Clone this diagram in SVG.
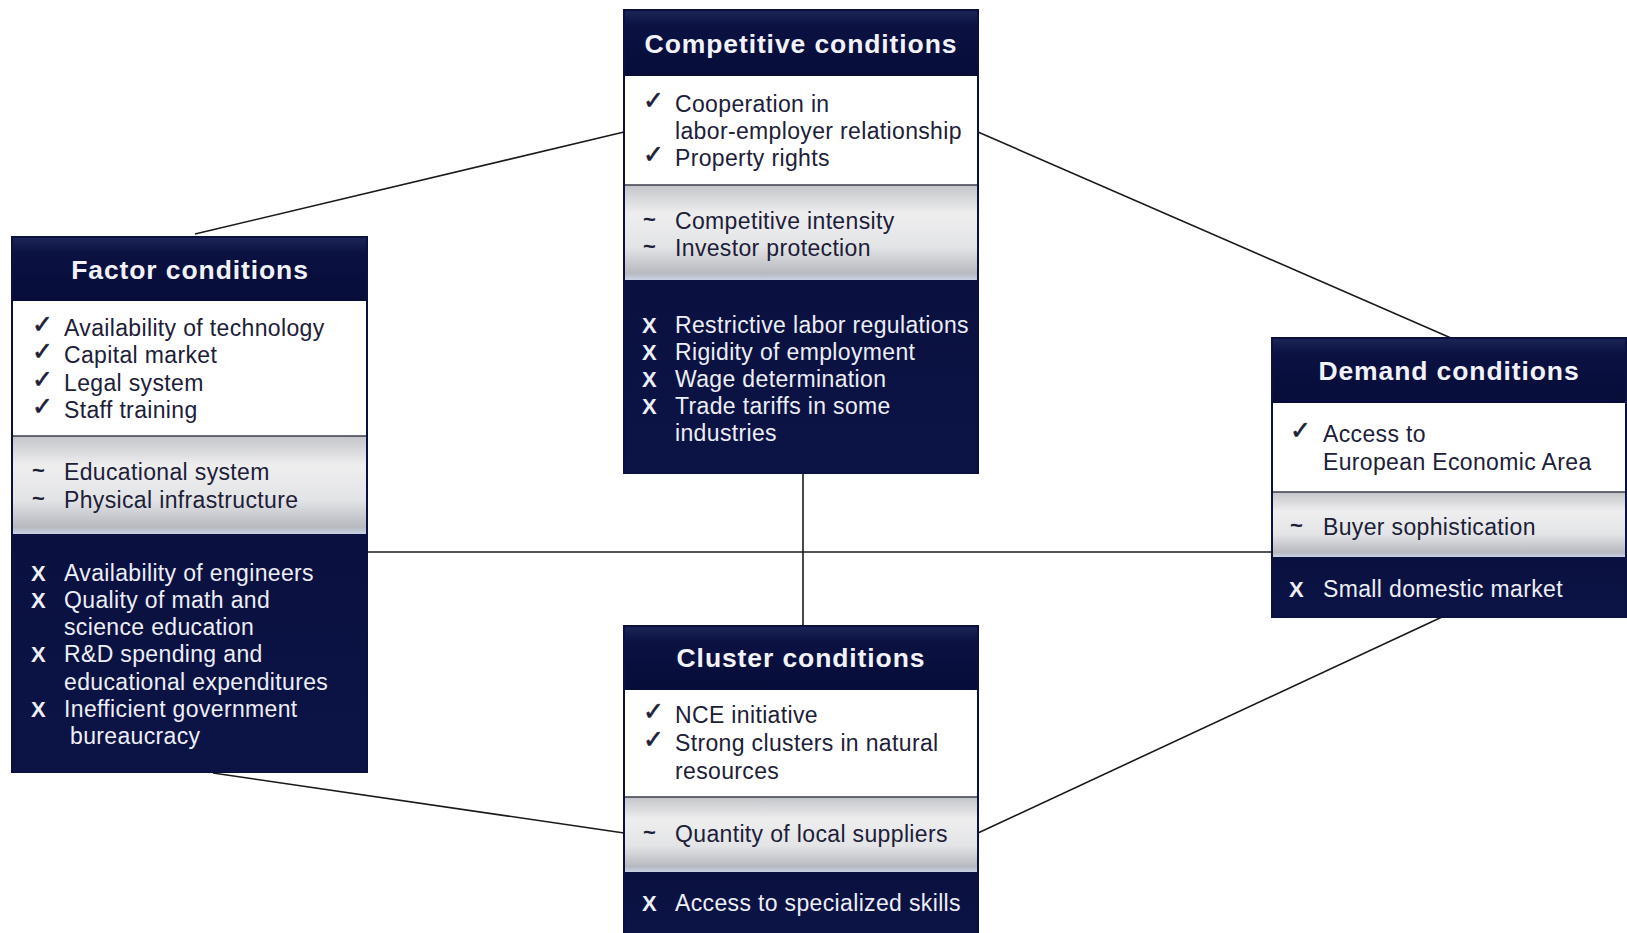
<svg xmlns="http://www.w3.org/2000/svg" width="1627" height="933" viewBox="0 0 1627 933">
<defs>
<linearGradient id="hdr" x1="0" y1="0" x2="0" y2="1">
<stop offset="0" stop-color="#1b2557"/>
<stop offset="0.25" stop-color="#0b1242"/>
<stop offset="1" stop-color="#070c38"/>
</linearGradient>
<linearGradient id="gry" x1="0" y1="0" x2="0" y2="1">
<stop offset="0" stop-color="#c4c5c9"/>
<stop offset="0.3" stop-color="#eeeeef"/>
<stop offset="0.65" stop-color="#e3e4e6"/>
<stop offset="0.93" stop-color="#b7b9c0"/>
<stop offset="1" stop-color="#c9d2e6"/>
</linearGradient>
<linearGradient id="drk" x1="0" y1="0" x2="0" y2="1">
<stop offset="0" stop-color="#0a1140"/>
<stop offset="1" stop-color="#0c1446"/>
</linearGradient>
</defs>
<style>
.hdr{fill:url(#hdr)}
.wht{fill:#ffffff}
.gry{fill:url(#gry)}
.drk{fill:url(#drk)}
.frame{fill:none;stroke:#0a1140;stroke-width:2}
.sep{stroke:#3a3d4a;stroke-width:1.5}
.title{font-family:"Liberation Sans",Arial,sans-serif;font-weight:bold;font-size:26.5px;letter-spacing:0.9px;fill:#f2f2fb;text-anchor:middle}
.t{font-family:"Liberation Sans",Arial,sans-serif;font-size:23px;letter-spacing:0.35px;fill:#1c2038}
.tw{font-family:"Liberation Sans",Arial,sans-serif;font-size:23px;letter-spacing:0.35px;fill:#eceef8}
.ck{font-family:"DejaVu Sans",sans-serif;font-size:25px;fill:#1c2038;stroke:#1c2038;stroke-width:0.6}
.tl{font-family:"Liberation Sans",Arial,sans-serif;font-size:22px;font-weight:bold;fill:#1c2038}
.x{font-family:"Liberation Sans",Arial,sans-serif;font-size:22px;font-weight:bold;fill:#eceef8}
.conn{stroke:#1a1a1a;stroke-width:1.6;fill:none}
</style>
<rect width="1627" height="933" fill="#ffffff"/>
<g id="connectors">
<line class="conn" x1="195" y1="234" x2="624" y2="132"/>
<line class="conn" x1="978" y1="132" x2="1451" y2="338"/>
<line class="conn" x1="367" y1="552" x2="1272" y2="552"/>
<line class="conn" x1="803" y1="473" x2="803" y2="626"/>
<line class="conn" x1="213" y1="773" x2="624" y2="833"/>
<line class="conn" x1="978" y1="833" x2="1442" y2="617"/>
</g>
<g id="competitive">
<rect class="hdr" x="624" y="10" width="354" height="66"/>
<rect class="wht" x="624" y="76" width="354" height="109"/>
<rect class="gry" x="624" y="185" width="354" height="95"/>
<rect class="drk" x="624" y="280" width="354" height="193"/>
<line class="sep" x1="624" y1="185" x2="978" y2="185"/>
<rect class="frame" x="624" y="10" width="354" height="463"/>
<text class="title" x="801" y="53">Competitive conditions</text>
<text class="ck" x="643" y="109">✓</text><text class="t" x="675" y="112">Cooperation in</text>
<text class="t" x="675" y="139">labor-employer relationship</text>
<text class="ck" x="643" y="163">✓</text><text class="t" x="675" y="166">Property rights</text>
<text class="tl" x="643" y="227">~</text><text class="t" x="675" y="229">Competitive intensity</text>
<text class="tl" x="643" y="254">~</text><text class="t" x="675" y="256">Investor protection</text>
<text class="x" x="642" y="333">X</text><text class="tw" x="675" y="333">Restrictive labor regulations</text>
<text class="x" x="642" y="360">X</text><text class="tw" x="675" y="360">Rigidity of employment</text>
<text class="x" x="642" y="387">X</text><text class="tw" x="675" y="387">Wage determination</text>
<text class="x" x="642" y="414">X</text><text class="tw" x="675" y="414">Trade tariffs in some</text>
<text class="tw" x="675" y="441">industries</text>
</g>
<g id="factor">
<rect class="hdr" x="12" y="237" width="355" height="64"/>
<rect class="wht" x="12" y="301" width="355" height="135"/>
<rect class="gry" x="12" y="436" width="355" height="98"/>
<rect class="drk" x="12" y="534" width="355" height="238"/>
<line class="sep" x1="12" y1="436" x2="367" y2="436"/>
<rect class="frame" x="12" y="237" width="355" height="535"/>
<text class="title" x="190" y="279">Factor conditions</text>
<text class="ck" x="32" y="333">✓</text><text class="t" x="64" y="336">Availability of technology</text>
<text class="ck" x="32" y="360">✓</text><text class="t" x="64" y="363">Capital market</text>
<text class="ck" x="32" y="388">✓</text><text class="t" x="64" y="391">Legal system</text>
<text class="ck" x="32" y="415">✓</text><text class="t" x="64" y="418">Staff training</text>
<text class="tl" x="32" y="478">~</text><text class="t" x="64" y="480">Educational system</text>
<text class="tl" x="32" y="506">~</text><text class="t" x="64" y="508">Physical infrastructure</text>
<text class="x" x="31" y="581">X</text><text class="tw" x="64" y="581">Availability of engineers</text>
<text class="x" x="31" y="608">X</text><text class="tw" x="64" y="608">Quality of math and</text>
<text class="tw" x="64" y="635">science education</text>
<text class="x" x="31" y="662">X</text><text class="tw" x="64" y="662">R&amp;D spending and</text>
<text class="tw" x="64" y="690">educational expenditures</text>
<text class="x" x="31" y="717">X</text><text class="tw" x="64" y="717">Inefficient government</text>
<text class="tw" x="70" y="744">bureaucracy</text>
</g>
<g id="demand">
<rect class="hdr" x="1272" y="338" width="354" height="65"/>
<rect class="wht" x="1272" y="403" width="354" height="89"/>
<rect class="gry" x="1272" y="492" width="354" height="65"/>
<rect class="drk" x="1272" y="557" width="354" height="60"/>
<line class="sep" x1="1272" y1="492" x2="1626" y2="492"/>
<rect class="frame" x="1272" y="338" width="354" height="279"/>
<text class="title" x="1449" y="380">Demand conditions</text>
<text class="ck" x="1290" y="439">✓</text><text class="t" x="1323" y="442">Access to</text>
<text class="t" x="1323" y="470">European Economic Area</text>
<text class="tl" x="1290" y="533">~</text><text class="t" x="1323" y="535">Buyer sophistication</text>
<text class="x" x="1289" y="597">X</text><text class="tw" x="1323" y="597">Small domestic market</text>
</g>
<g id="cluster">
<rect class="hdr" x="624" y="626" width="354" height="64"/>
<rect class="wht" x="624" y="690" width="354" height="107"/>
<rect class="gry" x="624" y="797" width="354" height="75"/>
<rect class="drk" x="624" y="872" width="354" height="62"/>
<line class="sep" x1="624" y1="797" x2="978" y2="797"/>
<rect class="frame" x="624" y="626" width="354" height="310"/>
<text class="title" x="801" y="667">Cluster conditions</text>
<text class="ck" x="643" y="720">✓</text><text class="t" x="675" y="723">NCE initiative</text>
<text class="ck" x="643" y="748">✓</text><text class="t" x="675" y="751">Strong clusters in natural</text>
<text class="t" x="675" y="779">resources</text>
<text class="tl" x="643" y="840">~</text><text class="t" x="675" y="842">Quantity of local suppliers</text>
<text class="x" x="642" y="911">X</text><text class="tw" x="675" y="911">Access to specialized skills</text>
</g>
</svg>
